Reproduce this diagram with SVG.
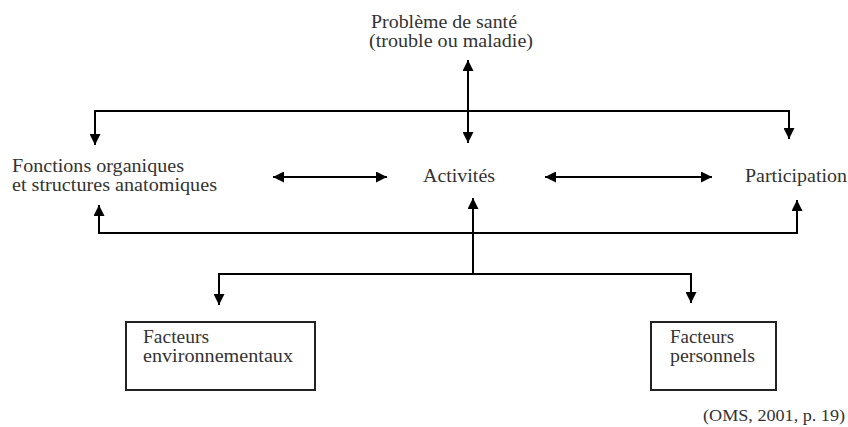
<svg xmlns="http://www.w3.org/2000/svg" width="848" height="427" viewBox="0 0 848 427">
<defs>
<marker id="ah" viewBox="0 0 10 10" refX="10" refY="5" markerWidth="11" markerHeight="11" markerUnits="userSpaceOnUse" orient="auto-start-reverse">
<path d="M0,0 L10,5 L0,10 Z" fill="#000"/>
</marker>
<style>
.t{font-family:"Liberation Serif","Times New Roman",serif;font-size:18px;fill:#333}
.s{font-size:16px}
.c{fill:none;stroke:#000;stroke-width:2}
.a{marker-end:url(#ah)}
.d{marker-start:url(#ah);marker-end:url(#ah)}
.box{fill:#fff;stroke:#222;stroke-width:2}
</style>
</defs>
<rect width="848" height="427" fill="#fff"/>
<g id="connectors">
<line class="c d" x1="468" y1="60" x2="468" y2="143"/>
<polyline class="c" points="95,111 789,111"/>
<line class="c a" x1="95" y1="110" x2="95" y2="145"/>
<line class="c a" x1="789" y1="110" x2="789" y2="139"/>
<polyline class="c" points="99,233 797,233"/>
<line class="c a" x1="99" y1="234" x2="99" y2="205"/>
<line class="c a" x1="797" y1="234" x2="797" y2="200"/>
<line class="c d" x1="273" y1="177" x2="387" y2="177"/>
<line class="c d" x1="545" y1="177" x2="712" y2="177"/>
<line class="c a" x1="473" y1="274" x2="473" y2="198"/>
<polyline class="c" points="219,274 691,274"/>
<line class="c a" x1="219" y1="273" x2="219" y2="305"/>
<line class="c a" x1="691" y1="273" x2="691" y2="303"/>
</g>
<g id="probleme">
<text class="t" x="371" y="28" textLength="146" lengthAdjust="spacingAndGlyphs">Problème de santé</text>
<text class="t" x="369" y="47" textLength="164" lengthAdjust="spacingAndGlyphs">(trouble ou maladie)</text>
</g>
<g id="fonctions">
<text class="t" x="12" y="172" textLength="172" lengthAdjust="spacingAndGlyphs">Fonctions organiques</text>
<text class="t" x="12" y="191" textLength="205" lengthAdjust="spacingAndGlyphs">et structures anatomiques</text>
</g>
<g id="activites">
<text class="t" x="423" y="182" textLength="72" lengthAdjust="spacingAndGlyphs">Activités</text>
</g>
<g id="participation">
<text class="t" x="745" y="182" textLength="102" lengthAdjust="spacingAndGlyphs">Participation</text>
</g>
<g id="env">
<rect class="box" x="126" y="322" width="189" height="68"/>
<text class="t" x="143" y="343" textLength="66" lengthAdjust="spacingAndGlyphs">Facteurs</text>
<text class="t" x="143" y="362" textLength="150" lengthAdjust="spacingAndGlyphs">environnementaux</text>
</g>
<g id="perso">
<rect class="box" x="651" y="322" width="125" height="68"/>
<text class="t" x="670" y="343" textLength="64" lengthAdjust="spacingAndGlyphs">Facteurs</text>
<text class="t" x="670" y="362" textLength="85" lengthAdjust="spacingAndGlyphs">personnels</text>
</g>
<g id="source">
<text class="t s" x="703" y="421" textLength="142" lengthAdjust="spacingAndGlyphs">(OMS, 2001, p. 19)</text>
</g>
</svg>
